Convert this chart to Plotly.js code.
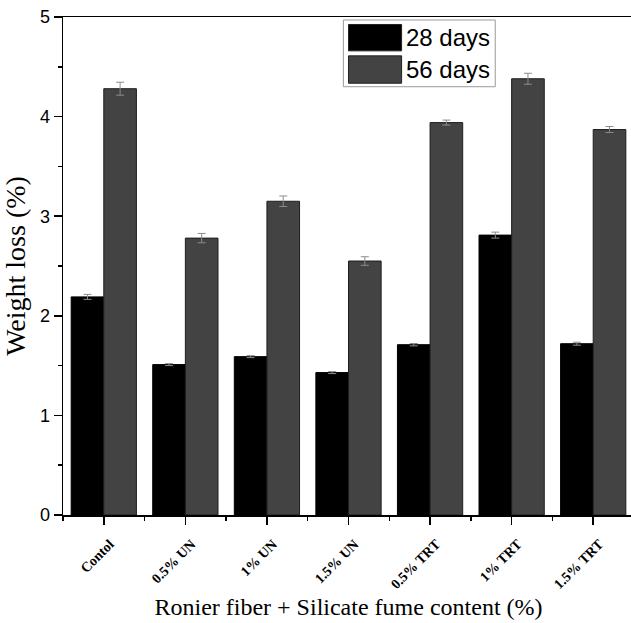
<!DOCTYPE html>
<html>
<head>
<meta charset="utf-8">
<script src="https://cdn.plot.ly/plotly-3.0.1.min.js"></script>
<style>
  html, body { margin: 0; padding: 0; overflow: hidden; background: #fff; }
  #chart { width: 640px; height: 623px; }
</style>
</head>
<body>
<div id="chart"></div>
<script>
// Mix designs (x-axis categories)
const categories = ['Contol', '0.5% UN', '1% UN', '1.5% UN', '0.5% TRT', '1% TRT', '1.5% TRT'];

// Weight loss (%) after sulfate exposure
const loss28 = [2.19, 1.51, 1.59, 1.43, 1.71, 2.81, 1.72];
const err28  = [0.025, 0.01, 0.01, 0.01, 0.012, 0.03, 0.015];
const loss56 = [4.28, 2.78, 3.15, 2.55, 3.94, 4.38, 3.87];
const err56  = [0.065, 0.047, 0.053, 0.043, 0.025, 0.055, 0.03];

const seriesNames = ['28 days', '56 days'];
const yTicks = [0, 1, 2, 3, 4, 5];

const xPos = categories.map((_, i) => i);

const traces = [
  {
    type: 'bar', name: seriesNames[0], x: xPos, y: loss28,
    marker: { color: '#000000', line: { color: '#000000', width: 1 } },
    error_y: { type: 'data', array: err28, visible: true, color: '#8c8c8c', thickness: 1, width: 4 },
    showlegend: false
  },
  {
    type: 'bar', name: seriesNames[1], x: xPos, y: loss56,
    marker: { color: '#434343', line: { color: '#1e1e1e', width: 1 } },
    error_y: { type: 'data', array: err56, visible: true, color: '#8c8c8c', thickness: 1, width: 4 },
    showlegend: false
  }
];

// Boxed legend with large swatches, placed in paper coordinates
const lg = { x0: 0.491, x1: 0.757, y0: 0.860, y1: 0.994 };
const shapes = [
  { type: 'rect', xref: 'paper', yref: 'paper', x0: lg.x0, x1: lg.x1, y0: lg.y0, y1: lg.y1,
    line: { color: '#9a9a9a', width: 1 }, fillcolor: '#ffffff', layer: 'above' },
  { type: 'rect', xref: 'paper', yref: 'paper', x0: 0.500, x1: 0.593, y0: 0.932, y1: 0.985,
    line: { color: '#222', width: 1 }, fillcolor: '#000000', layer: 'above' },
  { type: 'rect', xref: 'paper', yref: 'paper', x0: 0.500, x1: 0.593, y0: 0.867, y1: 0.922,
    line: { color: '#222', width: 1 }, fillcolor: '#434343', layer: 'above' }
];
const annotations = [
  { xref: 'paper', yref: 'paper', x: 0.598, y: 0.958, xanchor: 'left', yanchor: 'middle',
    text: seriesNames[0], showarrow: false,
    font: { family: 'Liberation Sans, Arial, sans-serif', size: 24, color: '#000' } },
  { xref: 'paper', yref: 'paper', x: 0.598, y: 0.894, xanchor: 'left', yanchor: 'middle',
    text: seriesNames[1], showarrow: false,
    font: { family: 'Liberation Sans, Arial, sans-serif', size: 24, color: '#000' } }
];

const layout = {
  width: 640, height: 623, showlegend: false,
  margin: { l: 63, r: 6, t: 17, b: 108 },
  paper_bgcolor: '#ffffff', plot_bgcolor: '#ffffff',
  barmode: 'group', bargap: 0.2, bargroupgap: 0,
  xaxis: {
    range: [-0.5, 6.5],
    tickmode: 'array', tickvals: xPos, ticktext: categories,
    tickangle: -45,
    ticklabelstandoff: 6, ticklabelshift: 6,
    tickfont: { family: 'Liberation Serif, Times New Roman, serif', size: 14, color: '#000', weight: 'bold' },
    ticks: 'outside', ticklen: 8, tickwidth: 1.5, tickcolor: '#000',
    minor: { tickmode: 'linear', tick0: 0.5, dtick: 1, ticks: 'outside', ticklen: 4, tickwidth: 1.5, tickcolor: '#000' },
    showline: true, linecolor: '#000', linewidth: 1.5, mirror: true,
    showgrid: false, zeroline: false,
    title: { text: 'Ronier fiber + Silicate fume content (%)', standoff: 7,
      font: { family: 'Liberation Serif, Times New Roman, serif', size: 24, color: '#000' } }
  },
  yaxis: {
    range: [0, 5],
    tickmode: 'array', tickvals: yTicks,
    tickfont: { family: 'Liberation Sans, Arial, sans-serif', size: 18, color: '#000' },
    ticks: 'outside', ticklen: 8, tickwidth: 1.5, tickcolor: '#000',
    minor: { tickmode: 'linear', tick0: 0.5, dtick: 1, ticks: 'outside', ticklen: 4, tickwidth: 1.5, tickcolor: '#000' },
    showline: true, linecolor: '#000', linewidth: 1.5, mirror: false,
    showgrid: false, zeroline: false,
    title: { text: 'Weight loss (%)', standoff: 6,
      font: { family: 'Liberation Serif, Times New Roman, serif', size: 28, color: '#000' } }
  },
  shapes: shapes,
  annotations: annotations
};

Plotly.newPlot('chart', traces, layout, { displayModeBar: false, staticPlot: true });
</script>
</body>
</html>
